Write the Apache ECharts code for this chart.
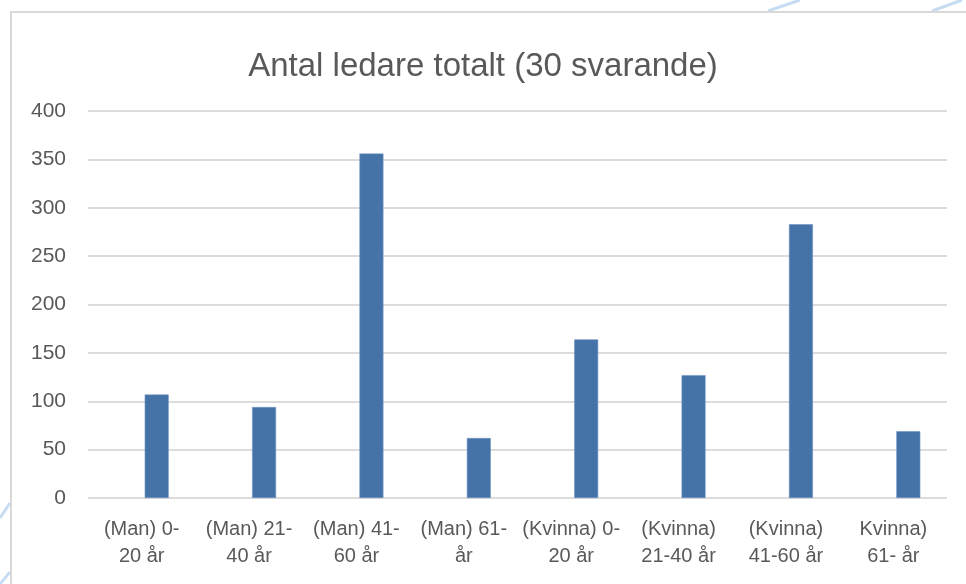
<!DOCTYPE html>
<html>
<head>
<meta charset="utf-8">
<script src="https://cdn.jsdelivr.net/npm/echarts@6/dist/echarts.min.js"></script>
<style>
  html, body { margin: 0; padding: 0; background: #fff; }
  #chart { width: 966px; height: 584px; }
</style>
</head>
<body>
<div id="chart"></div>
<script>
var titleText = 'Antal ledare totalt (30 svarande)';
var categories = [
	'(Man) 0-\n20 år',
	'(Man) 21-\n40 år',
	'(Man) 41-\n60 år',
	'(Man) 61-\når',
	'(Kvinna) 0-\n20 år',
	'(Kvinna)\n21-40 år',
	'(Kvinna)\n41-60 år',
	'Kvinna)\n61- år'
];
var leaders = [107, 94, 356, 62, 164, 127, 283, 69];
var yTicks = { min: 0, max: 400, interval: 50 };

var chart = echarts.init(document.getElementById('chart'));
chart.setOption({
	backgroundColor: '#fff',
	animation: false,
	title: {
		text: titleText,
		left: 'center',
		top: 45,
		textStyle: {
			fontFamily: 'Liberation Sans',
			fontSize: 33,
			fontWeight: 'normal',
			color: '#595959'
		}
	},
	graphic: [
		// chart frame
		{ type: 'rect', shape: { x: 11, y: 12, width: 1000, height: 640 },
		  style: { fill: 'none', stroke: '#d9d9d9', lineWidth: 2 }, z: -1 },
		// slide background strokes
		{ type: 'line', shape: { x1: 768, y1: 11, x2: 800, y2: 0 },
		  style: { stroke: '#c6dcf2', lineWidth: 3 }, z: -2 },
		{ type: 'line', shape: { x1: 932, y1: 11, x2: 962, y2: 0 },
		  style: { stroke: '#c6dcf2', lineWidth: 3 }, z: -2 },
		{ type: 'line', shape: { x1: 0, y1: 518, x2: 10, y2: 503 },
		  style: { stroke: '#c6dcf2', lineWidth: 3 }, z: -2 },
		{ type: 'line', shape: { x1: 0, y1: 584, x2: 10, y2: 572 },
		  style: { stroke: '#c6dcf2', lineWidth: 3 }, z: -2 }
	],
	grid: {
		left: 88,
		right: 19,
		top: 111,
		bottom: 86
	},
	xAxis: {
		type: 'category',
		data: categories,
		axisLine: { show: false },
		axisTick: { show: false },
		axisLabel: {
			interval: 0,
			margin: 18,
			lineHeight: 27,
			fontFamily: 'Liberation Sans',
			fontSize: 20,
			color: '#595959'
		}
	},
	yAxis: {
		type: 'value',
		min: yTicks.min,
		max: yTicks.max,
		interval: yTicks.interval,
		axisLine: { show: false },
		axisTick: { show: false },
		axisLabel: {
			margin: 22,
			fontFamily: 'Liberation Sans',
			fontSize: 21,
			color: '#595959'
		},
		splitLine: { lineStyle: { color: '#dcdcdc', width: 2 } }
	},
	series: [
		{
			// empty spacer, pushes the real bars right of the category centre
			type: 'bar',
			barWidth: 30,
			barGap: 0,
			silent: true,
			data: []
		},
		{
			name: 'Antal ledare',
			type: 'bar',
			barWidth: 24,
			barGap: 0,
			itemStyle: { color: '#4572a7', borderColor: '#7096c4', borderWidth: 0.6 },
			data: leaders
		}
	]
});
</script>
</body>
</html>
